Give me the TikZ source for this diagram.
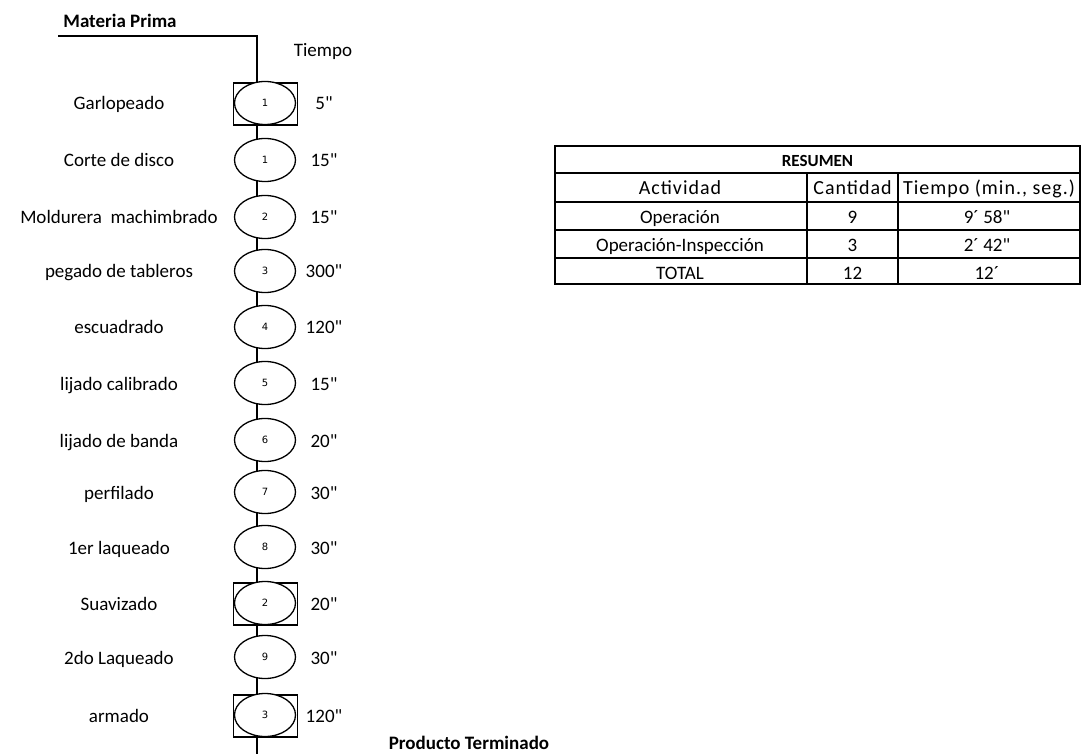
\documentclass[tikz,border=0pt]{standalone}
\usepackage{fontspec}
\setmainfont{Carlito}
\newfontfamily\numfont{DejaVu Sans}
\newfontfamily\widefont[LetterSpace=5]{Carlito}
\font\qfont="Carlito" at 19pt
\newcommand\dq{{\qfont\char34}}
\usetikzlibrary{shapes.geometric}
\begin{document}
\begin{tikzpicture}[x=1pt,y=-1pt,
  lbl/.style={anchor=base, inner sep=0pt, font=\fontsize{19}{22}\selectfont},
  blbl/.style={anchor=base, inner sep=0pt, font=\fontsize{19}{22}\selectfont\bfseries},
  hdr/.style={anchor=base, inner sep=0pt, font=\fontsize{20}{24}\widefont},
  ttl/.style={anchor=base, inner sep=0pt, font=\fontsize{17}{20}\selectfont\bfseries},
  opnode/.style={ellipse, draw, fill=white, line width=1.3pt, minimum width=61pt, minimum height=43pt, inner sep=0pt, font=\fontsize{10}{12}\numfont},
  opbox/.style={rectangle, draw, fill=white, line width=1.2pt, minimum width=64pt, minimum height=42pt, inner sep=0pt},
  flow/.style={line width=1.3pt},
  tbl/.style={line width=1.8pt}]
\fill[white] (0,0) rectangle (1088,754);
\useasboundingbox (0,0) rectangle (1088,754);

% flow line
\node[blbl] (mptext) at (120,28) {Materia Prima};
\coordinate (mp) at (58,36);
\coordinate (corner) at (257,36);
\coordinate (end) at (257,754);
\draw[flow] (mp) -- (corner) -- (end);
\node[lbl] (tiempo) at (323,57) {Tiempo};

% operations
\foreach \i/\y/\name/\num/\t/\kind in {
  1/103/Garlopeado/1/5\dq/1,
  2/160/Corte de disco/1/15\dq/0,
  3/217/Moldurera\ \ machimbrado/2/15\dq/0,
  4/271/pegado de tableros/3/300\dq/0,
  5/327/escuadrado/4/120\dq/0,
  6/383/lijado calibrado/5/15\dq/0,
  7/440/lijado de banda/6/20\dq/0,
  8/492/perfilado/7/30\dq/0,
  9/547/1er laqueado/8/30\dq/0,
  10/603/Suavizado/2/20\dq/1,
  11/657/2do Laqueado/9/30\dq/0,
  12/715/armado/3/120\dq/1}{
  \ifnum\kind=1
    \node[opbox] (box\i) at (265.5,\y+1) {};
  \fi
  \node[opnode] (op\i) at (265,\y) {\num};
  \node[lbl] (name\i) at (119,\y+7) {\name};
  \node[lbl] (time\i) at (324,\y+7) {\t};
}

\node[blbl] (pt) at (469,749) {Producto Terminado};

% summary table
\draw[tbl] (555,146) rectangle (1080,284);
\foreach \yy in {173,202,230,258}{
  \draw[tbl] (555,\yy) -- (1080,\yy);
}
\draw[tbl] (807,173) -- (807,284);
\draw[tbl] (898,173) -- (898,284);

\node[ttl] (resumen) at (817.5,167) {RESUMEN};
\node[hdr] (h1) at (680,195) {Actividad};
\node[hdr] (h2) at (852.5,195) {Cantidad};
\node[hdr] (h3) at (989,195) {Tiempo (min., seg.)};
\node[lbl] (r1a) at (680,224) {Operación};
\node[lbl] (r1b) at (852.5,224) {9};
\node[lbl] (r1c) at (987,224) {9´ 58\dq};
\node[lbl] (r2a) at (680,252) {Operación-Inspección};
\node[lbl] (r2b) at (852.5,252) {3};
\node[lbl] (r2c) at (987,252) {2´ 42\dq};
\node[lbl] (r3a) at (680,280) {TOTAL};
\node[lbl] (r3b) at (852.5,280) {12};
\node[lbl] (r3c) at (987,280) {12´};
\end{tikzpicture}
\end{document}
